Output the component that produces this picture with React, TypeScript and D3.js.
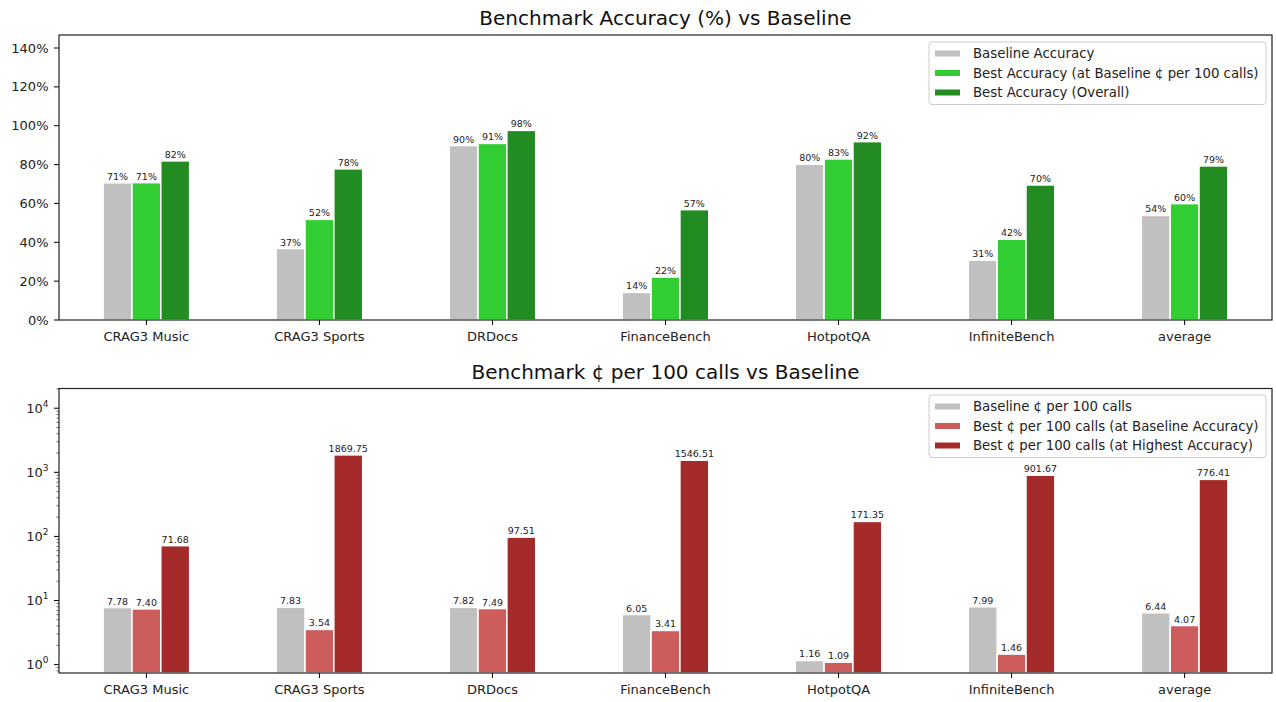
import * as d3 from "d3";

const categories = ["CRAG3 Music", "CRAG3 Sports", "DRDocs", "FinanceBench", "HotpotQA", "InfiniteBench", "average"];

// accuracy (%)
const baselineAcc = [70.6, 36.8, 89.8, 14.2, 80.2, 30.8, 53.8];
const bestAccAtBaseCost = [70.7, 51.8, 90.9, 22.1, 82.9, 41.6, 59.9];
const bestAccOverall = [81.9, 77.8, 97.6, 56.8, 91.8, 69.5, 79.3];

// cost (cents per 100 calls)
const baselineCost = [7.78, 7.83, 7.82, 6.05, 1.16, 7.99, 6.44];
const bestCostAtBaseAcc = [7.40, 3.54, 7.49, 3.41, 1.09, 1.46, 4.07];
const bestCostHighest = [71.68, 1869.75, 97.51, 1546.51, 171.35, 901.67, 776.41];

const accTicks = [0, 20, 40, 60, 80, 100, 120, 140];
const costTicks = [1, 10, 100, 1000, 10000];

const accSeries = [
  { name: "Baseline Accuracy", values: baselineAcc, color: "#c0c0c0" },
  { name: "Best Accuracy (at Baseline ¢ per 100 calls)", values: bestAccAtBaseCost, color: "#32cd32" },
  { name: "Best Accuracy (Overall)", values: bestAccOverall, color: "#228b22" },
];
const costSeries = [
  { name: "Baseline ¢ per 100 calls", values: baselineCost, color: "#c0c0c0" },
  { name: "Best ¢ per 100 calls (at Baseline Accuracy)", values: bestCostAtBaseAcc, color: "#cd5c5c" },
  { name: "Best ¢ per 100 calls (at Highest Accuracy)", values: bestCostHighest, color: "#a52a2a" },
];

const W = 1276;
const H = 702;
const FONT = "DejaVu Sans, sans-serif";
const left = 59;
const right = 1272;

const x = d3.scaleLinear().domain([-0.505, 6.505]).range([left, right]);
const barW = 1 / 6;
const offsets = [-1 / 6, 0, 1 / 6];

function Legend({ items, top }: { items: { name: string; color: string }[]; top: number }) {
  const lx = 929;
  const lw = 337;
  const rowH = 19.5;
  return (
    <g>
      <rect x={lx} y={top} width={lw} height={items.length * rowH + 4} rx={3} fill="white" fillOpacity={0.8} stroke="#cccccc" />
      {items.map((s, i) => (
        <g key={s.name} transform={`translate(${lx}, ${top + 11.5 + i * rowH})`}>
          <rect x={6} y={-3} width={25} height={6} fill={s.color} />
          <text x={44} y={0} dy="0.35em" fontSize={13.3} fill="#222">{s.name}</text>
        </g>
      ))}
    </g>
  );
}

function XAxis({ y }: { y: number }) {
  return (
    <g>
      {categories.map((c, i) => (
        <g key={c} transform={`translate(${x(i)}, ${y})`}>
          <line y2={5} stroke="black" strokeWidth={1} />
          <text y={21} textAnchor="middle" fontSize={13} fill="#222">{c}</text>
        </g>
      ))}
    </g>
  );
}

function AccuracyPanel() {
  const top = 35;
  const bottom = 320;
  const y = d3.scaleLinear().domain([0, 146.7]).range([bottom, top]);
  return (
    <g>
      <text x={(left + right) / 2} y={top - 10} textAnchor="middle" fontSize={20} fill="#111">
        Benchmark Accuracy (%) vs Baseline
      </text>
      {accSeries.map((s, si) =>
        s.values.map((v, i) => {
          const x0 = x(i + offsets[si] - barW / 2);
          const x1 = x(i + offsets[si] + barW / 2);
          return (
            <g key={`${si}-${i}`}>
              <rect x={x0} y={y(v)} width={x1 - x0} height={bottom - y(v)} fill={s.color} stroke="white" strokeWidth={1.5} />
              <text x={(x0 + x1) / 2} y={y(v) - 3} textAnchor="middle" fontSize={9.5} fill="#222">
                {`${Math.round(v)}%`}
              </text>
            </g>
          );
        })
      )}
      {accTicks.map((t) => (
        <g key={t} transform={`translate(${left}, ${y(t)})`}>
          <line x2={-5} stroke="black" strokeWidth={1} />
          <text x={-10.5} dy="0.35em" textAnchor="end" fontSize={13} fill="#222">{`${t}%`}</text>
        </g>
      ))}
      <rect x={left} y={top} width={right - left} height={bottom - top} fill="none" stroke="#222" strokeWidth={1.2} />
      <XAxis y={bottom} />
      <Legend items={accSeries} top={42} />
    </g>
  );
}

function CostPanel() {
  const top = 388.5;
  const bottom = 673;
  const y = d3.scaleLog().domain([0.74, 20300]).range([bottom, top]);
  const minors: number[] = [];
  for (let e = -1; e < 5; e++) {
    for (let m = 2; m <= 9; m++) {
      const v = m * Math.pow(10, e);
      if (v >= 0.74 && v <= 20300) minors.push(v);
    }
  }
  return (
    <g>
      <text x={(left + right) / 2} y={top - 10} textAnchor="middle" fontSize={20} fill="#111">
        Benchmark ¢ per 100 calls vs Baseline
      </text>
      {costSeries.map((s, si) =>
        s.values.map((v, i) => {
          const x0 = x(i + offsets[si] - barW / 2);
          const x1 = x(i + offsets[si] + barW / 2);
          return (
            <g key={`${si}-${i}`}>
              <rect x={x0} y={y(v)} width={x1 - x0} height={bottom - y(v)} fill={s.color} stroke="white" strokeWidth={1.5} />
              <text x={(x0 + x1) / 2} y={y(v) - 3} textAnchor="middle" fontSize={9.5} fill="#222">
                {v.toFixed(2)}
              </text>
            </g>
          );
        })
      )}
      {minors.map((t) => (
        <line key={t} x1={left} x2={left - 2.5} y1={y(t)} y2={y(t)} stroke="black" strokeWidth={0.6} />
      ))}
      {costTicks.map((t) => (
        <g key={t} transform={`translate(${left}, ${y(t)})`}>
          <line x2={-5} stroke="black" strokeWidth={1} />
          <text x={-10.5} dy="0.35em" textAnchor="end" fontSize={13} fill="#222">
            10<tspan dy={-6} fontSize={9}>{Math.round(Math.log10(t))}</tspan>
          </text>
        </g>
      ))}
      <rect x={left} y={top} width={right - left} height={bottom - top} fill="none" stroke="#222" strokeWidth={1.2} />
      <XAxis y={bottom} />
      <Legend items={costSeries} top={395} />
    </g>
  );
}

export default function App() {
  return (
    <svg
      width={W}
      height={H}
      style={{ position: "absolute", left: 0, top: 0, display: "block", background: "white" }}
      fontFamily={FONT}
    >
      <AccuracyPanel />
      <CostPanel />
    </svg>
  );
}
